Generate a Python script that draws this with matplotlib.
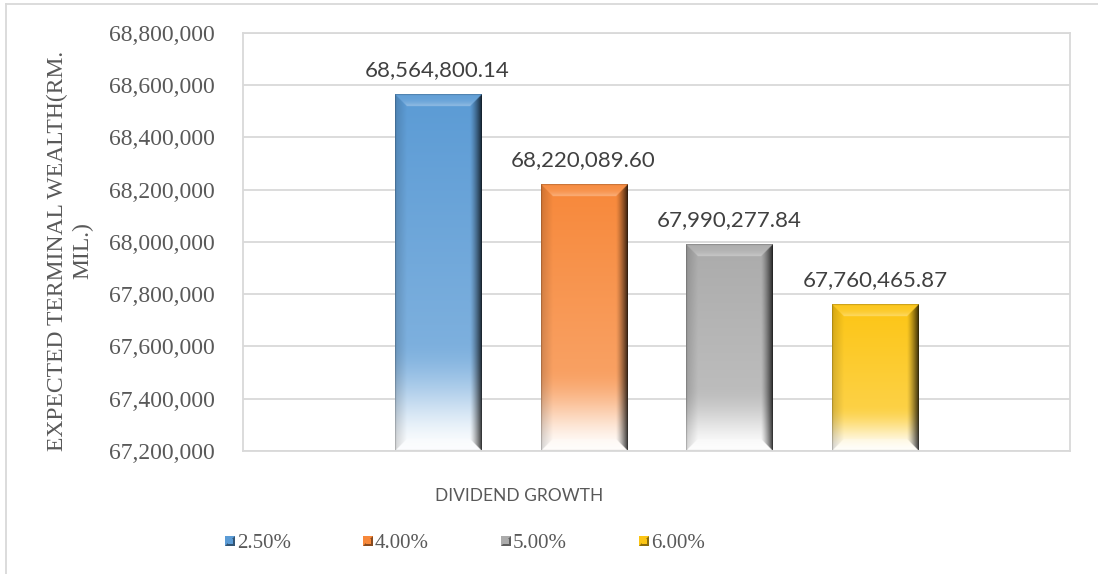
import numpy as np
import matplotlib
matplotlib.use("Agg")
import matplotlib.pyplot as plt
from matplotlib.colors import to_rgb
from matplotlib.lines import Line2D
from matplotlib.patches import Polygon
from matplotlib.ticker import FuncFormatter

# ---- data -------------------------------------------------------------
growth_labels = ["2.50%", "4.00%", "5.00%", "6.00%"]
terminal_wealth = [68564800.14, 68220089.60, 67990277.84, 67760465.87]
bar_colors = ["#5b9bd5", "#f7883a", "#ababab", "#fcc514"]
y_ticks = np.arange(67_200_000, 68_800_001, 200_000)

# ---- figure / axes ----------------------------------------------------
W, H, DPI = 1098, 574, 100
fig = plt.figure(figsize=(W / DPI, H / DPI), dpi=DPI)
fig.patch.set_facecolor("white")
ax = fig.add_axes([243 / W, 1 - 451 / H, (1070 - 243) / W, (451 - 33) / H])

GRID = "#d9d9d9"
TXT = "#595959"
SERIF = "Liberation Serif"
SANS = "Lato"

ax.set_xlim(-0.5, 0.5)
ax.set_ylim(y_ticks[0], y_ticks[-1])
ax.set_yticks(y_ticks)
ax.yaxis.set_major_formatter(FuncFormatter(lambda v, p: f"{v:,.0f}"))
ax.set_xticks([])
ax.tick_params(axis="y", length=0, pad=20, labelsize=17, labelcolor=TXT)
for lab in ax.get_yticklabels():
    lab.set_fontfamily(SERIF)
ax.grid(axis="y", color=GRID, lw=1.3)
ax.set_axisbelow(True)
for s in ax.spines.values():
    s.set_color(GRID)
    s.set_linewidth(1.3)

step, width = 0.1765, 0.104
offsets = (np.arange(len(terminal_wealth)) - 1.5) * step
base = y_ticks[0]
bars = ax.bar(offsets, np.array(terminal_wealth) - base, bottom=base,
              width=width, color="none", edgecolor="none")


def smoothstep(x):
    x = np.clip(x, 0, 1)
    return x * x * (3 - 2 * x)


def bevel_image(color, w, h, b):
    """RGBA raster of a bar with a vertical fade to white and bevelled edges."""
    c = np.array(to_rgb(color))
    yy, xx = np.mgrid[0:h, 0:w] + 0.5
    t = 1 - yy / h                      # 1 at the top, 0 at the bottom
    knee = 0.32
    f = np.where(t > knee, 0.80 + 0.20 * (t - knee) / (1 - knee),
                 0.02 + 0.78 * smoothstep(t / knee) ** 0.9)
    img = 1 + (c - 1) * f[..., None]

    d = np.stack([yy, h - yy, xx, w - xx])       # top, bottom, left, right
    side = np.argmin(d, axis=0)
    dmin = d.min(axis=0)
    inb = dmin < b
    r = np.clip(dmin / b, 0, 1)                  # 0 at outer edge, 1 inner

    top = inb & (side == 0)
    k = 0.05 + 0.30 * r[top] ** 3
    img[top] = img[top] + (1 - img[top]) * k[:, None]
    bot = inb & (side == 1)
    img[bot] = img[bot] + (1 - img[bot]) * (0.25 * r[bot])[:, None]
    left = inb & (side == 2)
    img[left] = img[left] * (1 - 0.16 * (1 - r[left]))[:, None]
    right = inb & (side == 3)
    img[right] = img[right] * (1 - 0.78 * (1 - r[right]) ** 1.3)[:, None]

    # thin outline
    edge = dmin < 2
    img[edge] = img[edge] * 0.8
    return np.dstack([np.clip(img, 0, 1), np.ones((h, w))])


fig.canvas.draw()
for patch, col, val in zip(bars.patches, bar_colors, terminal_wealth):
    x0, y0 = patch.get_x(), patch.get_y()
    x1, y1 = x0 + patch.get_width(), y0 + patch.get_height()
    (px0, py0), (px1, py1) = ax.transData.transform([(x0, y0), (x1, y1)])
    wpx, hpx = int(round(px1 - px0)), int(round(py1 - py0))
    img = bevel_image(col, max(wpx, 2) * 2, max(hpx, 2) * 2, b=24)
    ax.imshow(img, extent=(x0, x1, y0, y1), aspect="auto",
              interpolation="bilinear", zorder=2)
    ax.annotate(f"{val:,.2f}", xy=(patch.get_x() + patch.get_width() / 2, y1),
                xytext=(0, 18), textcoords="offset pixels",
                ha="center", va="baseline", fontsize=16, family=SANS,
                color="#404040", zorder=3)

ax.set_xlim(-0.5, 0.5)
ax.set_ylim(y_ticks[0], y_ticks[-1])

# ---- axis titles ------------------------------------------------------
fig.text(70 / W, 1 - 251 / H, "EXPECTED TERMINAL WEALTH(RM.\nMIL.)",
         rotation=90, ha="center", va="center", multialignment="center",
         fontsize=17, family=SERIF, color=TXT, linespacing=1.3)
fig.text(519 / W, 1 - 496 / H, "DIVIDEND GROWTH", ha="center", va="center",
         fontsize=12.5, family=SANS, color=TXT)

# ---- legend -----------------------------------------------------------
def fig_xy(px, py):
    return (px / W, 1 - py / H)

for i, (lab, col) in enumerate(zip(growth_labels, bar_colors)):
    mx = 225 + i * 138.0
    my = 541
    s = 10
    c = np.array(to_rgb(col))
    corners = [fig_xy(mx, my - s / 2), fig_xy(mx + s, my - s / 2),
               fig_xy(mx + s, my + s / 2), fig_xy(mx, my + s / 2)]
    fig.add_artist(Polygon(corners, closed=True, transform=fig.transFigure,
                           facecolor=c, edgecolor="none"))
    dark = [fig_xy(mx + s, my - s / 2), fig_xy(mx + s, my + s / 2),
            fig_xy(mx, my + s / 2)]
    fig.add_artist(Polygon(dark, closed=True, transform=fig.transFigure,
                           facecolor=c * 0.55, edgecolor="none"))
    inner = [fig_xy(mx + 2.5, my - s / 2 + 2.5), fig_xy(mx + s - 2.5, my - s / 2 + 2.5),
             fig_xy(mx + s - 2.5, my + s / 2 - 2.5), fig_xy(mx + 2.5, my + s / 2 - 2.5)]
    fig.add_artist(Polygon(inner, closed=True, transform=fig.transFigure,
                           facecolor=c, edgecolor="none"))
    fig.text(*fig_xy(mx + s + 2, my + 7), lab, ha="left", va="baseline",
             fontsize=15, family=SERIF, color=TXT)

# ---- outer frame ------------------------------------------------------
fig.add_artist(Line2D([6 / W, 6 / W], [0, 1 - 4 / H], transform=fig.transFigure,
                      color=GRID, lw=1.3))
fig.add_artist(Line2D([6 / W, 1], [1 - 4 / H, 1 - 4 / H], transform=fig.transFigure,
                      color=GRID, lw=1.3))

fig.savefig("out.png", dpi=DPI)
